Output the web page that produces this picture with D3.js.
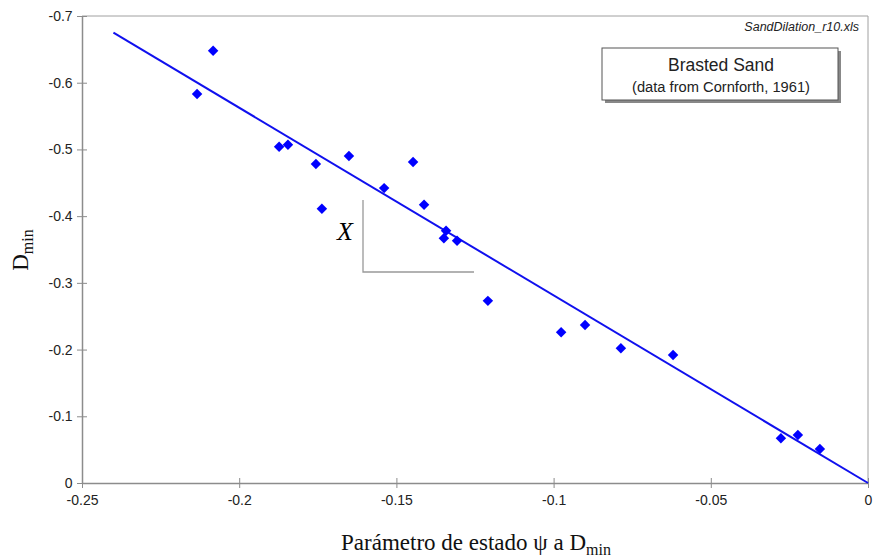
<!DOCTYPE html>
<html>
<head>
<meta charset="utf-8">
<script src="https://cdn.jsdelivr.net/npm/d3@7"></script>
<style>
  body { margin: 0; background: #fff; }
  svg { display: block; }
</style>
</head>
<body>
<div id="chart"></div>
<script>
// state parameter psi vs Dmin
const psi = [-0.2134, -0.2083, -0.1873, -0.1845, -0.1756, -0.1737, -0.1651, -0.1539, -0.1447, -0.1412,
  -0.1342, -0.1349, -0.1307, -0.1209, -0.0976, -0.0900, -0.0786, -0.0620, -0.0277, -0.0223, -0.0153];
const dmin = [-0.583, -0.648, -0.504, -0.507, -0.478, -0.411, -0.490, -0.442, -0.481, -0.417,
  -0.378, -0.367, -0.363, -0.273, -0.226, -0.237, -0.202, -0.192, -0.067, -0.072, -0.051];

// fitted line through origin
const fitX = [-0.24, 0];
const fitY = [-0.675, 0];

const xTicks = [-0.25, -0.2, -0.15, -0.1, -0.05, 0];
const yTicks = [0, -0.1, -0.2, -0.3, -0.4, -0.5, -0.6, -0.7];

const width = 873, height = 559;
const m = { left: 82, right: 5, top: 16, bottom: 76 };

const svg = d3.select('#chart').append('svg')
  .attr('width', width)
  .attr('height', height);

const x = d3.scaleLinear().domain([-0.25, 0]).range([m.left, width - m.right]);
const y = d3.scaleLinear().domain([0, -0.7]).range([height - m.bottom, m.top]);

const axisCol = '#8c8c8c';

// frame top + right
svg.append('path')
  .attr('d', `M${x(-0.25)},${y(-0.7)}H${x(0)}V${y(0)}`)
  .attr('fill', 'none')
  .attr('stroke', '#a0a0a0')
  .attr('stroke-width', 1);

// axes - crossing ticks like excel
const xAxis = svg.append('g')
  .attr('transform', `translate(0,${y(0)})`)
  .call(d3.axisBottom(x).tickValues(xTicks).tickSize(5).tickSizeOuter(0)
    .tickFormat(d => d === 0 ? '0' : String(d)));
xAxis.selectAll('.tick line').attr('y1', -5);

const yAxis = svg.append('g')
  .attr('transform', `translate(${x(-0.25)},0)`)
  .call(d3.axisLeft(y).tickValues(yTicks).tickSize(5).tickSizeOuter(0)
    .tickFormat(d => d === 0 ? '0' : String(d)));
yAxis.selectAll('.tick line').attr('x1', 5);

[xAxis, yAxis].forEach(g => {
  g.select('.domain').attr('stroke', axisCol).attr('stroke-width', 1.5);
  g.selectAll('.tick line').attr('stroke', axisCol);
  g.selectAll('.tick text')
    .attr('fill', '#222')
    .attr('font-family', 'Liberation Sans, Arial, sans-serif')
    .attr('font-size', 14);
});
xAxis.selectAll('.tick text').attr('dy', '1.0em');
yAxis.selectAll('.tick text').attr('dx', '-0.1em');

// slope triangle annotation
svg.append('path')
  .attr('d', 'M363,200V272H474')
  .attr('fill', 'none')
  .attr('stroke', '#999')
  .attr('stroke-width', 1.3);
svg.append('text')
  .attr('x', 345).attr('y', 240)
  .attr('text-anchor', 'middle')
  .attr('font-family', 'Liberation Serif, Times New Roman, serif')
  .attr('font-style', 'italic')
  .attr('font-size', 26)
  .text('X');

// trend line
svg.append('line')
  .attr('x1', x(fitX[0])).attr('y1', y(fitY[0]))
  .attr('x2', x(fitX[1])).attr('y2', y(fitY[1]))
  .attr('stroke', '#1010ee')
  .attr('stroke-width', 2);

// points
const pts = psi.map((v, i) => ({ x: v, y: dmin[i] }));
svg.append('g').selectAll('path')
  .data(pts)
  .join('path')
  .attr('d', d3.symbol(d3.symbolDiamond2, 70))
  .attr('transform', d => `translate(${x(d.x)},${y(d.y)})`)
  .attr('fill', '#0000ff');

// file name tag
svg.append('text')
  .attr('x', 859).attr('y', 31)
  .attr('text-anchor', 'end')
  .attr('font-family', 'Liberation Sans, Arial, sans-serif')
  .attr('font-style', 'italic')
  .attr('font-size', 12.5)
  .attr('fill', '#222')
  .text('SandDilation_r10.xls');

// legend box w/ shadow
const lg = svg.append('g');
lg.append('rect')
  .attr('x', 605).attr('y', 51).attr('width', 236).attr('height', 52)
  .attr('fill', '#888');
lg.append('rect')
  .attr('x', 602).attr('y', 48).attr('width', 236).attr('height', 52)
  .attr('fill', '#fff')
  .attr('stroke', '#555')
  .attr('stroke-width', 1);
lg.append('text')
  .attr('x', 721).attr('y', 71)
  .attr('text-anchor', 'middle')
  .attr('font-family', 'Liberation Sans, Arial, sans-serif')
  .attr('font-size', 17.5)
  .attr('fill', '#222')
  .text('Brasted Sand');
lg.append('text')
  .attr('x', 721).attr('y', 92)
  .attr('text-anchor', 'middle')
  .attr('font-family', 'Liberation Sans, Arial, sans-serif')
  .attr('font-size', 14.7)
  .attr('fill', '#222')
  .text('(data from Cornforth, 1961)');

// axis titles
const xt = svg.append('text')
  .attr('x', 476).attr('y', 550)
  .attr('text-anchor', 'middle')
  .attr('font-family', 'Liberation Serif, Times New Roman, serif')
  .attr('font-size', 23)
  .attr('fill', '#111');
xt.append('tspan').text('Parámetro de estado ψ a D');
xt.append('tspan').attr('font-size', 16).attr('dy', 5).text('min');

const yt = svg.append('text')
  .attr('transform', 'translate(28,250) rotate(-90)')
  .attr('text-anchor', 'middle')
  .attr('font-family', 'Liberation Serif, Times New Roman, serif')
  .attr('font-size', 23)
  .attr('fill', '#111');
yt.append('tspan').text('D');
yt.append('tspan').attr('font-size', 16).attr('dy', 5).text('min');
</script>
</body>
</html>
